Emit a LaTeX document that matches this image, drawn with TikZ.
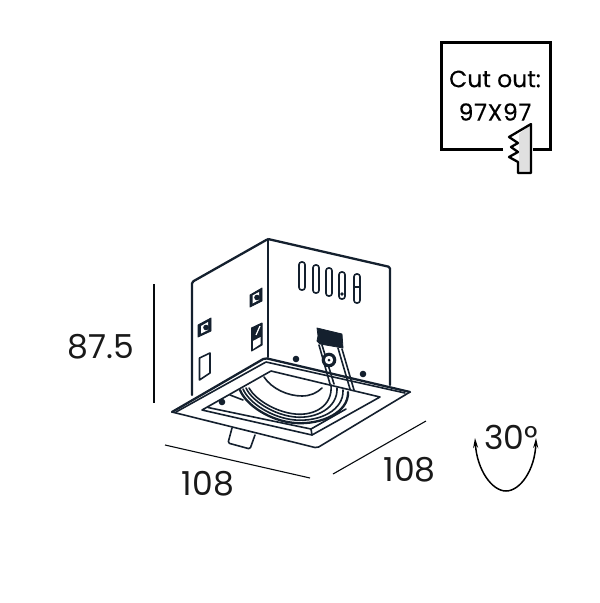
\documentclass[tikz,border=0pt]{standalone}
\usepackage{fontspec}
\setmainfont{Poppins}
\usetikzlibrary{arrows.meta}
\definecolor{ink}{HTML}{14202E}
\tikzset{
  body/.style={draw=ink,line width=2.3pt,line join=round,line cap=round},
  thin/.style={draw=ink,line width=1.6pt,line join=round,line cap=round},
  dim/.style={draw=black!70!ink,line width=1.1pt},
  solid dark/.style={fill=ink,draw=ink,line width=.8pt,line join=round},
  big/.style={font=\fontsize{33}{36}\selectfont,text=black!90,inner sep=0pt},
  small/.style={font=\fontsize{23.5}{26}\selectfont\addfontfeature{FakeBold=0.25},text=black,inner sep=0pt}
}
\begin{document}
\begin{tikzpicture}[x=1pt,y=-1pt]
\useasboundingbox (0,0) rectangle (600,603);
% cut out box
\draw[line width=3pt,draw=black,line join=miter] (503,149) -- (441,149) -- (441,42) -- (550,42) -- (550,149) -- (533,149);
\node[small] (cut) at (495,79) {Cut out:};
\node[small] (size) at (495,112) {\addfontfeature{LetterSpace=3}97X97};
\fill[black!12] (530,125) -- (519,134) -- (519,172) -- (531,172) -- cycle;
\draw[draw=black,line width=2.3pt,line join=round] (531,124) -- (509,137) -- (518,143) -- (511,147) -- (518,152) -- (509,157) -- (518,162) -- (518,173) -- (531,173) -- cycle;
% box walls
\draw[body,rounded corners=1.5pt] (192,395) -- (192,282) -- (268,239) -- (390,267) -- (390,385);
\draw[body] (268,239) -- (268,357);
% slots
\foreach \x/\ya/\yb in {302/262/290,316/265/293,329/268/296,342/272/299,357/274/303}
  \draw[thin,rounded corners=2.6pt] (\x-3,\ya) rectangle (\x+3,\yb);
\fill[ink] (342,294) circle (1.8);
\draw[thin] (354,287) -- (360,287);
% holes
\draw[draw=ink,fill=ink,line width=.8pt,line join=round] (250,295) -- (262,288) -- (262,301) -- (250,307) -- cycle;
\fill[white] (252.5,295.5) -- (259,292) -- (259,300) -- (252.5,303.5) -- cycle;
\fill[ink] (257,297.5) circle (2.8);
\draw[draw=ink,fill=ink,line width=.8pt,line join=round] (198,325) -- (211,318) -- (211,331) -- (198,337) -- cycle;
\fill[white] (201,326) -- (208,322) -- (208,330) -- (201,333.5) -- cycle;
\fill[ink] (206,327.5) circle (2.8);
\draw[draw=ink,fill=ink,line width=1pt,line join=round] (251.5,328) -- (262,323) -- (262,345) -- (251.5,351) -- cycle;
\fill[white] (253,341) -- (260.5,337) -- (260.5,344) -- (253,349) -- cycle;
\draw[white,line width=1.2pt] (256,335) -- (260,326);
\draw[thin] (199.5,358) -- (210,353) -- (210,373) -- (199.5,380) -- cycle;
% tab
\draw[thin,rounded corners=1.5pt] (232,428) -- (228,443) -- (250,449) -- (255,435);
% flange
\fill[white] (172,412) -- (265,358) -- (410,392) -- (317,448) -- cycle;
\draw[thin,rounded corners=2pt] (172,412) -- (317,448) -- (410,392);
\draw[body,rounded corners=2pt] (172,412) -- (265,358) -- (410,392);
\draw[thin] (176,412) -- (266,362) -- (405,393);
% inner opening
\draw[thin] (202,410) -- (271,371) -- (380,397) -- (312,435) -- cycle;
\draw[thin] (208,407.5) -- (311,429) -- (346,409);
\draw[thin] (311,429) -- (312,435);
% dome
\draw[thin] (264,377) .. controls (272,389) and (288,396) .. (302,396) .. controls (310,396) and (317,393) .. (322,388);
\draw[thin] (230,395) -- (243,400);
\draw[body] (240,390) .. controls (246,405) and (270,421) .. (295,423) .. controls (322,425) and (349,412) .. (348,392);
\draw[thin] (243,389) .. controls (249,403) and (272,418) .. (295,420) .. controls (320,422) and (344,410) .. (343,390);
\draw[thin] (246,388) .. controls (252,401) and (274,415) .. (295,417) .. controls (316,419) and (338,408) .. (337,388);
\draw[thin] (249,388) .. controls (255,399) and (275,412) .. (295,414) .. controls (314,416) and (333,406) .. (331,385);
% dots
\fill[ink] (296,359) circle (3.3);
\fill[ink] (363,374) circle (3.3);
\fill[ink] (222,402) circle (3.3);
% bracket
\draw[thin] (319,345) -- (330,384);
\draw[thin] (322,345) -- (334,384);
\draw[thin] (342,349) -- (354,390);
\draw[thin] (338,348) -- (350,389);
\draw[solid dark] (317,328) -- (342,334) -- (343,348) -- (320,344) -- (317,341) -- (318,336) -- cycle;
\draw[thin,fill=white] (329,360) circle (6.5);
\draw[draw=ink,line width=2.2pt] (329,360) circle (5.5);
\fill[ink] (329,360) circle (1.5);
% dimensions
\draw[dim] (154,284) -- (154,403);
\draw[dim] (165,445) -- (310,478);
\draw[dim] (333,474) -- (426,421);
\node[big] (h) at (100.5,347) {87.5};
\node[big] (w) at (208,484) {108};
\node[big] (d) at (409.5,470) {108};
\node[big] (ang) at (511,437) {30°};
\draw[draw=black,line width=1.5pt,{Stealth[length=10pt,width=5pt]}-{Stealth[length=10pt,width=5pt]}] (475,438) .. controls (477,470) and (492,491) .. (506,491) .. controls (520,491) and (535,470) .. (536,438);
\end{tikzpicture}
\end{document}
